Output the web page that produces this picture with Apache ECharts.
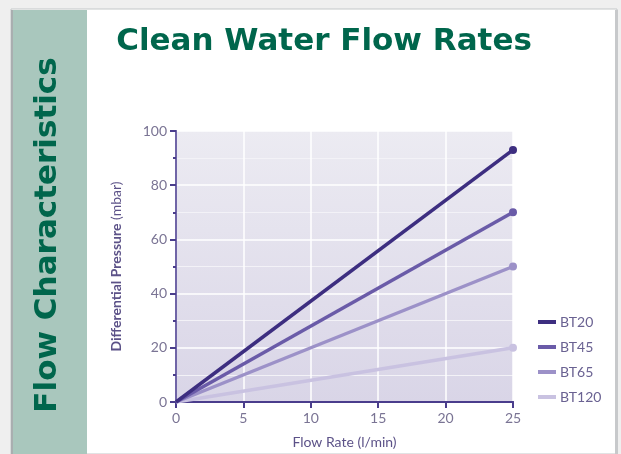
<!DOCTYPE html>
<html><head><meta charset="utf-8">
<script src="https://cdn.jsdelivr.net/npm/echarts@6/dist/echarts.min.js"></script>
<style>html,body{margin:0;padding:0;background:#efefef}#c{width:621px;height:454px}</style>
</head><body><div id="c"></div>
<script>
const flowRate = [0, 25];
const seriesNames = ['BT20', 'BT45', 'BT65', 'BT120'];
const bt20 = [0, 93];
const bt45 = [0, 70];
const bt65 = [0, 50];
const bt120 = [0, 20];
const xTicks = [0, 5, 10, 15, 20, 25];
const yTicks = [0, 20, 40, 60, 80, 100];
const colors = ['#3d2e80', '#6a5ba8', '#9c91c8', '#c9c2e1'];
const values = [bt20, bt45, bt65, bt120];

const chart = echarts.init(document.getElementById('c'));
const axisColor = '#4a3d8c';
const labelColor = '#7a7494';
const headFont = 'bold 31px "DejaVu Sans", "Liberation Sans", sans-serif';
chart.setOption({
  backgroundColor: '#efefef',
  animation: false,
  graphic: [
    {type:'rect', z:-10, shape:{x:11,y:9,width:606,height:445}, style:{fill:'#ffffff', stroke:'#c3c7c8', lineWidth:1}},
    {type:'rect', z:-9, shape:{x:11,y:10,width:2,height:444}, style:{fill:'#a9aeb0'}},
    {type:'rect', z:-9, shape:{x:615,y:10,width:3,height:444}, style:{fill:'#c7c9cb'}},
    {type:'rect', z:-8, shape:{x:13,y:10,width:74,height:444}, style:{fill:'#a9c7bd'}},
    {type:'text', z:5, x:48, y:235, rotation:Math.PI/2,
      style:{text:'Flow Characteristics', fill:'#00664c', font:headFont, align:'center', verticalAlign:'middle'}},
    {type:'text', z:5, x:324, y:42,
      style:{text:'Clean Water Flow Rates', fill:'#00664c', font:headFont, align:'center', verticalAlign:'middle'}}
  ],
  grid: {left:176, right:108, top:131, bottom:52, show:true, borderWidth:0,
    backgroundColor: new echarts.graphic.LinearGradient(0,0,0,1,[{offset:0,color:'#ecebf2'},{offset:1,color:'#d9d5e7'}])},
  legend: {
    orient:'vertical', left:533, top:309, itemWidth:18, itemHeight:4, itemGap:9,
    icon:'rect', data: seriesNames,
    textStyle:{color:'#6a6292', fontSize:14, fontFamily:'Lato, sans-serif', lineHeight:16, padding:[0,0,0,-1]}
  },
  xAxis: [{
    type:'value', min:0, max:25, interval:5,
    name:'Flow Rate (l/min)', nameLocation:'middle', nameGap:33,
    nameTextStyle:{color:'#5c5288', fontSize:14, fontFamily:'Lato, sans-serif'},
    axisLine:{show:true, onZero:false, lineStyle:{color:axisColor, width:2}},
    axisTick:{show:true, length:6, lineStyle:{color:axisColor, width:2}},
    axisLabel:{color:labelColor, fontSize:14, fontFamily:'Lato, sans-serif', margin:9,
      formatter:v => xTicks.includes(v) ? String(v) : ''},
    splitLine:{show:true, lineStyle:{color:'#ffffff', width:1.5}}
  },{
    type:'value', min:0, max:25, position:'top',
    axisLine:{show:true, lineStyle:{color:axisColor, width:2}},
    axisTick:{show:false}, axisLabel:{show:false}, splitLine:{show:false}
  }],
  yAxis: [{
    type:'value', min:0, max:100, interval:20,
    name:'{b|Differential Pressure} {n|(mbar)}', nameLocation:'middle', nameGap:53, nameRotate:90,
    nameTextStyle:{color:'#5c5288', fontSize:14, fontFamily:'Lato, sans-serif',
      rich:{b:{fontWeight:'bold', color:'#5c5288', fontSize:14, fontFamily:'Lato, sans-serif'}, n:{color:'#5c5288', fontSize:14, fontFamily:'Lato, sans-serif'}}},
    axisLine:{show:true, onZero:false, lineStyle:{color:axisColor, width:2}},
    axisTick:{show:true, length:6, lineStyle:{color:axisColor, width:2}},
    minorTick:{show:true, splitNumber:2, length:3, lineStyle:{color:axisColor, width:2}},
    minorSplitLine:{show:true, lineStyle:{color:'#f3f2f7', width:1}},
    axisLabel:{color:labelColor, fontSize:14, fontFamily:'Lato, sans-serif', margin:9,
      formatter:v => yTicks.includes(v) ? String(v) : ''},
    splitLine:{show:true, lineStyle:{color:'#ffffff', width:1.5}}
  },{
    type:'value', min:0, max:100, position:'right',
    axisLine:{show:true, lineStyle:{color:'#7e73b0', width:1.5}},
    axisTick:{show:false}, axisLabel:{show:false}, splitLine:{show:false}
  }],
  series: seriesNames.map((n,i) => ({
    name:n, type:'line', color:colors[i],
    lineStyle:{width:3.5, color:colors[i]},
    itemStyle:{color:colors[i]},
    symbol:'circle', symbolSize:8, showSymbol:true,
    z: 10 - i,
    data: flowRate.map((x,j) => j === 0 ? {value:[x, values[i][j]], symbol:'none'} : [x, values[i][j]])
  }))
});
</script></body></html>
